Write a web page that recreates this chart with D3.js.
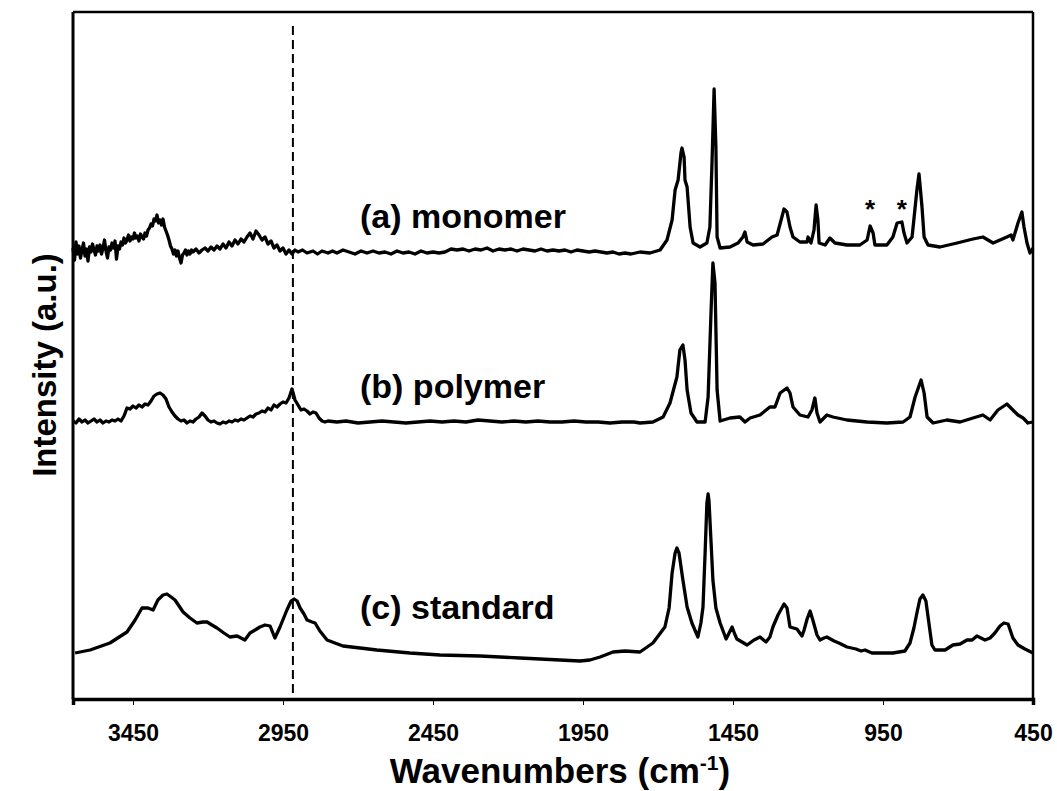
<!DOCTYPE html>
<html><head><meta charset="utf-8">
<script src="https://cdn.jsdelivr.net/npm/d3@7"></script>
<style>
html,body{margin:0;padding:0;background:#fff;}
svg{display:block;}
text{font-family:"Liberation Sans",Arial,Helvetica,sans-serif;font-weight:bold;fill:#000;}
</style></head>
<body>
<svg id="chart" width="1057" height="791"></svg>
<script>
// ---- data ----
const xTicks = [3450, 2950, 2450, 1950, 1450, 950, 450];
const seriesNames = ["(a) monomer", "(b) polymer", "(c) standard"];
const offsets = [447, 277, 46];          // vertical stacking offsets (a.u.)
const dashedAt = 2917;                   // reference wavenumber (dashed line)
const asteriskAt = [993, 887];           // marked peaks in (a)

// [wavenumber, intensity above own baseline]
const monomer = [
[3650,4],[3645,-8],[3640,10],[3635,-2],[3630,6],[3625,-6],[3620,2],[3615,9],[3610,-4],[3605,3],
[3600,-9],[3595,5],[3590,0],[3585,8],[3580,2],[3575,-3],[3570,6],[3565,1],[3560,7],[3555,-2],
[3550,4],[3545,12],[3540,1],[3535,-6],[3530,5],[3525,2],[3520,9],[3515,4],[3510,11],[3505,-7],
[3500,6],[3495,3],[3490,10],[3485,7],[3480,14],[3475,9],[3470,12],[3465,17],[3460,11],[3455,15],
[3450,13],[3445,19],[3440,14],[3435,16],[3430,11],[3425,18],[3420,15],[3415,13],[3410,19],[3405,16],
[3400,22],[3395,24],[3390,28],[3385,26],[3380,33],[3375,31],[3370,37],[3365,29],[3360,32],[3355,27],
[3350,33],[3345,25],[3340,21],[3335,17],[3330,12],[3325,6],[3320,3],[3315,-2],[3310,2],[3305,-4],
[3300,1],[3295,-6],[3290,-11],[3285,-3],[3280,-1],[3275,2],[3270,-3],[3265,1],[3260,-2],[3255,2],
[3250,0],[3240,3],[3230,-1],[3220,2],[3210,4],[3200,1],[3190,5],[3180,2],[3170,6],[3160,3],
[3150,8],[3140,4],[3130,10],[3120,6],[3110,12],[3100,8],[3090,13],[3080,10],[3070,15],[3060,19],
[3050,13],[3040,21],[3030,17],[3020,12],[3010,15],[3000,8],[2990,11],[2980,4],[2970,7],[2960,1],
[2950,4],[2940,-2],[2930,2],[2920,-2],[2910,2],[2900,0],[2885,2],[2870,-1],[2850,1],[2835,-2],
[2820,1],[2800,-1],[2785,1],[2770,-1],[2750,2],[2730,0],[2710,-2],[2690,1],[2670,-1],[2650,1],
[2630,-1],[2610,0],[2590,-2],[2570,1],[2550,-1],[2530,0],[2510,-2],[2490,1],[2470,-1],[2450,0],
[2430,-1],[2410,0],[2390,3],[2370,2],[2350,3],[2330,1],[2310,3],[2290,2],[2270,4],[2250,1],
[2230,3],[2210,2],[2190,3],[2170,1],[2150,3],[2130,2],[2110,1],[2090,3],[2070,1],[2050,2],
[2030,1],[2010,2],[1990,0],[1970,2],[1950,1],[1930,0],[1910,1],[1890,0],[1870,-1],[1850,0],
[1830,-2],[1810,-1],[1790,-2],[1760,0],[1727,-1],[1693,2],[1670,12],[1653,32],[1643,62],
[1633,72],[1623,100],[1620,104],[1613,95],[1610,72],[1603,65],[1593,25],[1583,9],[1560,5],[1537,9],
[1527,25],[1520,89],[1513,163],[1507,105],[1503,15],[1493,4],[1460,5],[1433,9],[1417,15],[1410,20],
[1403,10],[1383,7],[1350,8],[1320,15],[1303,17],[1287,35],[1280,43],[1270,40],[1260,25],[1250,15],
[1227,10],[1203,10],[1200,15],[1190,9],[1180,22],[1173,47],[1167,32],[1163,9],[1143,7],[1127,14],
[1110,9],[1070,7],[1027,7],[1003,12],[993,26],[983,19],[977,7],[937,7],[917,15],[903,29],
[887,30],[880,19],[870,9],[853,15],[837,62],[830,78],[820,45],[813,15],[800,7],[760,5],
[703,9],[650,13],[617,15],[583,9],[537,15],[523,17],[517,12],[500,29],[487,40],[480,25],
[470,9],[460,-1],[450,4]
];

const polymer = [
[3650,1],[3640,-1],[3630,3],[3620,0],[3610,2],[3600,-1],[3590,1],[3580,3],[3570,0],[3560,2],
[3550,-1],[3540,1],[3530,0],[3520,2],[3510,1],[3500,3],[3490,1],[3480,6],[3470,14],[3460,13],
[3450,16],[3440,14],[3430,17],[3420,15],[3410,18],[3400,17],[3390,21],[3380,26],[3370,28],[3360,29],
[3350,27],[3340,23],[3330,15],[3320,10],[3310,6],[3300,3],[3290,1],[3280,2],[3270,-1],[3260,1],
[3250,0],[3240,3],[3230,5],[3220,9],[3210,6],[3200,2],[3190,0],[3180,1],[3170,-1],[3160,-2],
[3150,0],[3140,-1],[3130,1],[3120,0],[3110,2],[3100,1],[3090,3],[3080,2],[3070,4],[3060,6],
[3050,5],[3040,8],[3030,9],[3020,11],[3010,10],[3000,14],[2990,12],[2980,17],[2970,15],[2960,18],
[2950,20],[2940,19],[2930,24],[2920,33],[2910,22],[2900,17],[2890,12],[2880,13],[2870,11],[2860,8],
[2850,10],[2840,9],[2830,4],[2820,1],[2810,0],[2800,1],[2770,0],[2740,1],[2700,-1],[2660,0],
[2620,1],[2580,0],[2540,-1],[2500,0],[2460,1],[2420,0],[2380,1],[2340,0],[2300,2],[2260,1],
[2220,0],[2180,1],[2140,0],[2100,1],[2060,0],[2020,0],[1980,1],[1940,0],[1900,0],[1860,-1],
[1820,0],[1780,0],[1760,-1],[1717,0],[1683,5],[1660,19],[1637,45],[1627,72],[1617,77],[1610,62],
[1603,32],[1590,9],[1570,0],[1543,0],[1533,25],[1523,112],[1517,159],[1510,139],[1503,32],[1493,1],
[1460,4],[1427,5],[1410,0],[1393,4],[1360,7],[1327,15],[1310,15],[1293,29],[1270,34],[1260,29],
[1250,15],[1227,7],[1200,5],[1187,12],[1177,24],[1170,9],[1160,0],[1137,7],[1117,5],[1070,2],
[1003,0],[937,-1],[883,0],[860,5],[843,25],[823,42],[813,29],[803,5],[783,-1],[737,2],
[693,0],[650,4],[617,7],[593,2],[567,12],[537,18],[517,12],[500,7],[483,4],[467,-1],[450,0]
];

const standard = [
[3643,0],[3593,3],[3527,10],[3470,21],[3443,33],[3420,45],[3400,45],[3383,43],[3367,53],[3350,58],
[3337,59],[3323,56],[3310,53],[3283,41],[3260,35],[3237,30],[3217,31],[3203,31],[3187,28],[3170,25],
[3147,20],[3127,16],[3103,17],[3090,15],[3077,13],[3060,20],[3043,23],[3027,26],[3010,28],[2993,27],
[2977,15],[2960,26],[2937,43],[2923,52],[2913,54],[2903,52],[2893,45],[2880,39],[2870,33],[2853,31],
[2843,30],[2827,22],[2803,13],[2777,10],[2750,7],[2693,5],[2637,3],[2527,0],[2427,-2],[2293,-3],
[2160,-5],[2027,-7],[1960,-8],[1927,-7],[1893,-4],[1850,1],[1810,2],[1760,1],[1717,10],[1677,26],
[1663,45],[1653,80],[1643,100],[1637,105],[1630,100],[1617,73],[1603,46],[1587,30],[1567,16],[1557,30],
[1550,46],[1543,100],[1537,150],[1533,159],[1530,152],[1523,110],[1517,73],[1507,45],[1493,30],[1473,14],
[1463,20],[1453,26],[1443,18],[1437,14],[1403,8],[1380,13],[1360,16],[1340,11],[1327,16],[1317,26],
[1300,38],[1280,49],[1270,45],[1260,26],[1237,24],[1220,17],[1213,23],[1203,34],[1193,42],[1183,32],
[1170,18],[1160,13],[1147,15],[1137,16],[1113,12],[1097,10],[1070,6],[1040,4],[1023,2],[1010,3],
[987,0],[963,0],[917,0],[877,2],[860,10],[847,25],[837,40],[827,54],[817,58],[807,52],
[797,30],[787,8],[777,3],[743,3],[717,8],[693,9],[670,13],[653,13],[637,17],[610,13],
[593,15],[577,20],[560,27],[547,30],[533,29],[517,15],[500,8],[477,4],[450,0]
];
const spectra = [monomer, polymer, standard];

// ---- layout ----
const mLeft = 73, mRight = 1033, mTop = 12, mBottom = 699;
const svg = d3.select("#chart");
const x = d3.scaleLinear().domain([3650, 450]).range([mLeft, mRight]);
const y = d3.scaleLinear().domain([0, mBottom - mTop]).range([mBottom, mTop]);

// dashed reference line
svg.append("line")
  .attr("x1", x(dashedAt)).attr("x2", x(dashedAt))
  .attr("y1", mTop + 14).attr("y2", mBottom)
  .attr("stroke", "#000").attr("stroke-width", 2).attr("stroke-dasharray", "9,5");

// spectra
const line = d3.line().x(d => x(d[0])).y(d => d[1]);
spectra.forEach((s, i) => {
  svg.append("path")
    .datum(s.map(d => [d[0], y(d[1] + offsets[i])]))
    .attr("d", line)
    .attr("fill", "none").attr("stroke", "#000")
    .attr("stroke-width", 3.3).attr("stroke-linejoin", "round");
});

// frame
svg.append("line").attr("x1", mLeft).attr("x2", mLeft).attr("y1", mTop).attr("y2", mBottom)
  .attr("stroke", "#000").attr("stroke-width", 3);
svg.append("line").attr("x1", mLeft).attr("x2", mRight).attr("y1", mTop).attr("y2", mTop)
  .attr("stroke", "#000").attr("stroke-width", 2.5);
svg.append("line").attr("x1", mRight).attr("x2", mRight).attr("y1", mTop).attr("y2", mBottom)
  .attr("stroke", "#000").attr("stroke-width", 2.5);

// x axis
const ax = svg.append("g").attr("transform", `translate(0,${mBottom})`)
  .call(d3.axisBottom(x).tickValues(xTicks).tickSize(6).tickPadding(10).tickFormat(d3.format("d")));
ax.select(".domain").attr("stroke", "#000").attr("stroke-width", 3.5);
ax.selectAll(".tick line").attr("stroke", "#000").attr("stroke-width", 1);
ax.selectAll(".tick text").style("font-size", "23px").style("font-weight", "bold")
  .style("font-family", '"Liberation Sans", Arial, sans-serif').attr("dy", "1.15em");

// series labels
const labelY = [228, 398, 619];
seriesNames.forEach((n, i) => {
  svg.append("text").attr("x", 360).attr("y", labelY[i])
    .style("font-size", "34px").text(n);
});

// asterisks
asteriskAt.forEach(w => {
  svg.append("text").attr("x", x(w)).attr("y", 218).attr("text-anchor", "middle")
    .style("font-size", "26px").text("*");
});

// axis titles
const xt = svg.append("text").attr("x", 560).attr("y", 783).attr("text-anchor", "middle")
  .style("font-size", "35px");
xt.append("tspan").text("Wavenumbers (cm");
xt.append("tspan").attr("dy", "-13").style("font-size", "21px").text("-1");
xt.append("tspan").attr("dy", "13").text(")");

svg.append("text").attr("transform", "translate(56,365) rotate(-90)")
  .attr("text-anchor", "middle").style("font-size", "33px").text("Intensity (a.u.)");
</script>
</body></html>
